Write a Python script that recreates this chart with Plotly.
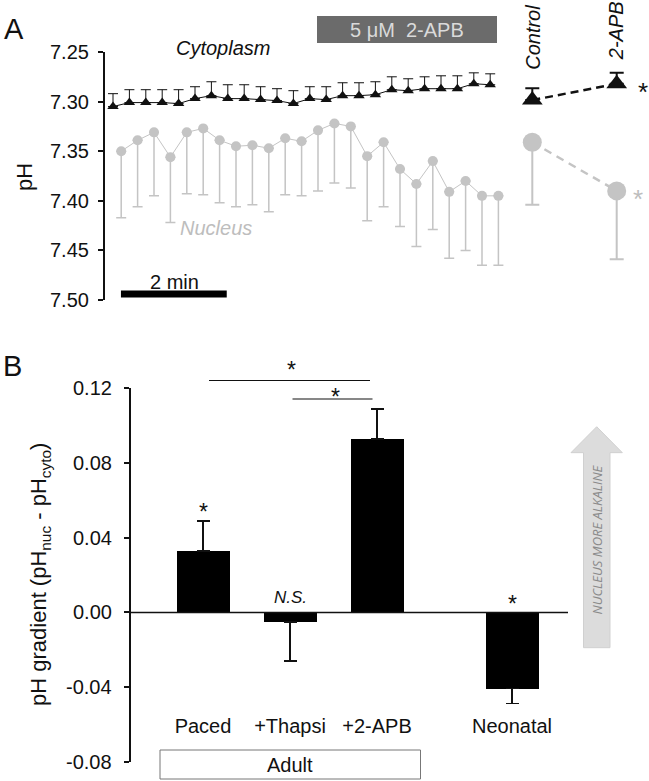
import plotly.graph_objects as go

W, H = 649, 781
FONT = "Arial, Liberation Sans, sans-serif"
INK = "#111111"
GREY = "#c4c4c4"

# ---- panel A: time course (pH, y reversed) ----
dt = 0.31  # min between samples
cyto_ph = [7.305, 7.301, 7.301, 7.301, 7.302, 7.297, 7.294, 7.297, 7.297, 7.298, 7.299, 7.302,
           7.297, 7.298, 7.294, 7.294, 7.293, 7.288, 7.289, 7.287, 7.287, 7.287, 7.282, 7.283]
cyto_err = [0.013, 0.013, 0.013, 0.013, 0.014, 0.012, 0.014, 0.014, 0.014, 0.013, 0.012, 0.013,
            0.012, 0.013, 0.013, 0.013, 0.013, 0.013, 0.012, 0.012, 0.013, 0.013, 0.011, 0.011]
nuc_ph = [7.350, 7.339, 7.331, 7.356, 7.331, 7.327, 7.339, 7.345, 7.344, 7.347, 7.337, 7.340,
          7.329, 7.322, 7.325, 7.355, 7.341, 7.368, 7.383, 7.360, 7.391, 7.380, 7.395, 7.395]
nuc_err = [0.067, 0.067, 0.064, 0.066, 0.062, 0.067, 0.063, 0.061, 0.060, 0.064, 0.057, 0.055,
           0.061, 0.060, 0.062, 0.065, 0.065, 0.058, 0.063, 0.069, 0.067, 0.070, 0.070, 0.070]
cyto_t = [i * dt for i in range(len(cyto_ph))]
nuc_t = [t + dt / 2 for t in cyto_t]

summary_cats = ["Control", "2-APB"]
summary_cyto = [7.2985, 7.282]
summary_cyto_err = [0.012, 0.011]
summary_nuc = [7.341, 7.390]
summary_nuc_err = [0.063, 0.069]

ph_ticks = [7.25, 7.30, 7.35, 7.40, 7.45, 7.50]

# ---- panel B: gradient bars ----
adult_cats = ["Paced", "+Thapsi", "+2-APB"]
adult_grad = [0.0328, -0.005, 0.0926]
adult_err = [0.016, 0.021, 0.0163]
neo_cats = ["Neonatal"]
neo_grad = [-0.0407]
neo_err = [0.008]
grad_ticks = [0.12, 0.08, 0.04, 0.00, -0.04, -0.08]


def px(x):
    return x / W


def py(y):
    return 1 - y / H


def split_err(vals, errs):
    up = [e if v > 0 else 0 for v, e in zip(vals, errs)]
    dn = [e if v < 0 else 0 for v, e in zip(vals, errs)]
    return up, dn


fig = go.Figure()

# nucleus trace (errors toward higher pH = downward on reversed axis)
fig.add_trace(go.Scatter(
    x=nuc_t, y=nuc_ph, mode="lines+markers", xaxis="x", yaxis="y",
    line=dict(color=GREY, width=1),
    marker=dict(symbol="circle", size=10, color=GREY),
    error_y=dict(type="data", symmetric=False, array=nuc_err, arrayminus=[0] * len(nuc_err),
                 color=GREY, thickness=1.5, width=5),
    showlegend=False))
fig.add_trace(go.Scatter(
    x=cyto_t, y=cyto_ph, mode="lines+markers", xaxis="x", yaxis="y",
    line=dict(color=INK, width=1),
    marker=dict(symbol="triangle-up", size=10, color=INK),
    error_y=dict(type="data", symmetric=False, array=[0] * len(cyto_err), arrayminus=cyto_err,
                 color=INK, thickness=1, width=5),
    showlegend=False))

# summary points
fig.add_trace(go.Scatter(
    x=summary_cats, y=summary_nuc, mode="lines+markers", xaxis="x2", yaxis="y",
    line=dict(color=GREY, width=2.5, dash="8px,6px"),
    marker=dict(symbol="circle", size=19, color=GREY),
    error_y=dict(type="data", symmetric=False, array=summary_nuc_err, arrayminus=[0, 0],
                 color=GREY, thickness=2, width=7),
    showlegend=False))
fig.add_trace(go.Scatter(
    x=summary_cats, y=summary_cyto, mode="lines+markers", xaxis="x2", yaxis="y",
    line=dict(color=INK, width=2.5, dash="8px,5px"),
    marker=dict(symbol="triangle-up", size=18, color=INK),
    error_y=dict(type="data", symmetric=False, array=[0, 0], arrayminus=summary_cyto_err,
                 color=INK, thickness=2, width=7),
    showlegend=False))

# bars
up, dn = split_err(adult_grad, adult_err)
fig.add_trace(go.Bar(
    x=adult_cats, y=adult_grad, xaxis="x3", yaxis="y3", width=0.61,
    marker=dict(color="black", line=dict(width=0)),
    error_y=dict(type="data", symmetric=False, array=up, arrayminus=dn,
                 color=INK, thickness=1.5, width=6.5),
    showlegend=False))
up, dn = split_err(neo_grad, neo_err)
fig.add_trace(go.Bar(
    x=neo_cats, y=neo_grad, xaxis="x4", yaxis="y3", width=0.61,
    marker=dict(color="black", line=dict(width=0)),
    error_y=dict(type="data", symmetric=False, array=up, arrayminus=dn,
                 color=INK, thickness=1.5, width=6.5),
    showlegend=False))

tickfont = dict(family=FONT, size=20, color=INK)
x_l, x_r = 105, 510
px_per_min = 16.4 / dt
fig.update_layout(
    width=W, height=H, margin=dict(l=0, r=0, t=0, b=0, autoexpand=False),
    paper_bgcolor="white", plot_bgcolor="white",
    font=dict(family=FONT, color=INK),
    bargap=0,
    xaxis=dict(domain=[px(x_l), px(x_r)], anchor="y", visible=False, automargin=False,
               range=[(x_l - 113) / px_per_min, (x_r - 113) / px_per_min]),
    # tick labels for the y axes are placed as annotations below (wider gap than plotly's)
    yaxis=dict(domain=[py(300), py(52)], anchor="x", range=[7.50, 7.25], automargin=False,
               tickvals=ph_ticks, showticklabels=False,
               showgrid=False, zeroline=False, showline=True, linecolor=INK, linewidth=1.5,
               ticks="outside", ticklen=5, tickwidth=1.5, tickcolor=INK),
    xaxis2=dict(domain=[px(505), 1], anchor="y", visible=False, automargin=False,
                type="category", range=[-(532.3 - 505) / 84.4, (649 - 532.3) / 84.4]),
    yaxis3=dict(domain=[py(762), py(388)], anchor="free", position=px(130), automargin=False,
                range=[-0.08, 0.12], tickvals=grad_ticks, showticklabels=False,
                showgrid=False, zeroline=False, showline=True, linecolor=INK, linewidth=1.5,
                ticks="outside", ticklen=5, tickwidth=1.5, tickcolor=INK),
    xaxis3=dict(domain=[px(159.5), px(420.5)], anchor="free", position=py(712),
                automargin=False, type="category", range=[-0.5, 2.5], showgrid=False,
                showline=False, zeroline=False, ticks="", tickfont=tickfont),
    xaxis4=dict(domain=[px(468.5), px(555.5)], anchor="free", position=py(712),
                automargin=False, type="category", range=[-0.5, 0.5], showgrid=False,
                showline=False, zeroline=False, ticks="", tickfont=tickfont),
)

shapes = []
# scale bar 2 min
shapes.append(dict(type="line", xref="x", yref="y", x0=0.15, x1=2.15, y0=7.494, y1=7.494,
                   line=dict(color="black", width=7)))
# 2-APB application box
shapes.append(dict(type="rect", xref="paper", yref="paper", x0=px(317), x1=px(497),
                   y0=py(43), y1=py(16), fillcolor="#6b6b6b", line=dict(width=0)))
# zero line across panel B
shapes.append(dict(type="line", xref="paper", yref="y3", x0=px(130), x1=px(568), y0=0, y1=0,
                   line=dict(color=INK, width=1.5)))
# significance brackets
shapes.append(dict(type="line", xref="paper", yref="paper", x0=px(209), x1=px(370),
                   y0=py(380.5), y1=py(380.5), line=dict(color=INK, width=1.2)))
shapes.append(dict(type="line", xref="paper", yref="paper", x0=px(292.5), x1=px(372.5),
                   y0=py(399), y1=py(399), line=dict(color=INK, width=1.2)))
# Adult box
shapes.append(dict(type="rect", xref="paper", yref="paper", x0=px(160), x1=px(420.5),
                   y0=py(779), y1=py(750), line=dict(color="#777777", width=1)))
# "nucleus more alkaline" arrow
pts = [(583.5, 647.7), (583.5, 452.7), (571, 452.7), (596.7, 426.7), (622.3, 452.7),
       (610, 452.7), (610, 647.7)]
path = "M " + " L ".join(f"{px(x):.4f},{py(y):.4f}" for x, y in pts) + " Z"
shapes.append(dict(type="path", xref="paper", yref="paper", path=path,
                   fillcolor="#dcdcdc", line=dict(color="#d0d0d0", width=1)))
fig.update_layout(shapes=shapes)


def note(text, x, y, size=20, color=INK, xref="paper", yref="paper", angle=0,
         italic=False, family=FONT, xanchor="center", yanchor="middle"):
    if italic:
        text = f"<i>{text}</i>"
    fig.add_annotation(text=text, x=x, y=y, xref=xref, yref=yref, showarrow=False,
                       textangle=angle, xanchor=xanchor, yanchor=yanchor,
                       font=dict(family=family, size=size, color=color))


for v in ph_ticks:
    note(f"{v:.2f}", px(91), v, yref="y", xanchor="right")
for v in grad_ticks:
    note(f"{v:.2f}", px(114), v, yref="y3", xanchor="right")

note("A", px(14), py(29), size=29)
note("B", px(12), py(366), size=29)
note("pH", px(24), py(177), size=22, angle=-90)
note("Cytoplasm", px(223), py(48), italic=True)
note("Nucleus", px(216), py(228), color="#bdbdbd", italic=True)
note("2 min", px(174), py(282))
note("5 \u03bcM\u00a0\u00a02-APB", px(407), py(30), color="#dadada")
note("Control", summary_cats[0], py(72), xref="x2", angle=-90, italic=True, yanchor="bottom")
note("2-APB", summary_cats[1], py(62), xref="x2", angle=-90, italic=True, yanchor="bottom")
note("*", px(643), py(92), size=26)
note("*", px(638), py(199), size=26, color="#bdbdbd")

note("pH gradient (pH<sub>nuc</sub> - pH<sub>cyto</sub>)", px(40), py(575), size=22, angle=-90)
note("*", px(291), py(370), size=23)
note("*", px(335), py(397), size=23)
note("*", adult_cats[0], py(512), xref="x3", size=23)
note("N.S.", adult_cats[1], py(597), xref="x3", size=17, italic=True)
note("*", neo_cats[0], py(604), xref="x4", size=23)
note("Adult", px(290), py(765))
note("NUCLEUS MORE ALKALINE", px(596.5), py(540), size=13, color="#8a8a8a", angle=-90,
     italic=True, family="Open Sans, sans-serif")

fig.write_html("out.html", config={"displayModeBar": False},
               post_script="document.body.style.margin='0';")
